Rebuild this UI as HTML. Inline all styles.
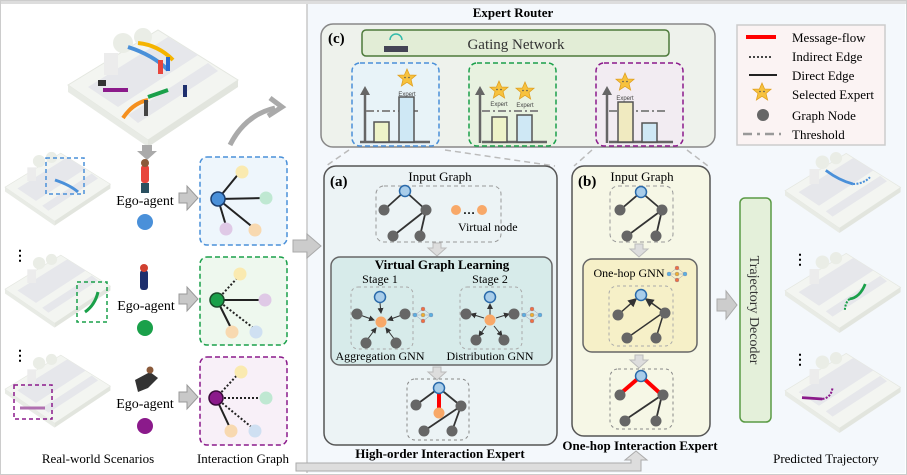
<!DOCTYPE html>
<html><head><meta charset="utf-8"><style>
html,body{margin:0;padding:0;background:#fff}
svg{display:block;font-family:"Liberation Serif",serif}
</style></head><body>
<svg width="907" height="475" viewBox="0 0 907 475" xmlns="http://www.w3.org/2000/svg">
<defs>
<marker id="ah" markerWidth="6" markerHeight="6" refX="5" refY="3" orient="auto"><path d="M0,0 L6,3 L0,6z" fill="#333"/></marker>
<g id="scene">
  <path d="M0,60 L90,5 L170,55 L80,115 Z" fill="#f3f5f1" stroke="#e4e7e0"/>
  <path d="M0,60 L80,115 L80,122 L0,67Z" fill="#e8ebe5"/>
  <path d="M80,115 L170,55 L170,62 L80,122Z" fill="#e2e5de"/>
  <path d="M20,62 L100,12 L130,30 L50,82Z" fill="#e6e7eb"/>
  <path d="M60,90 L140,38 L150,46 L70,98Z" fill="#e6e7eb"/>
  <circle cx="55" cy="18" r="10" fill="#eaede6"/><circle cx="75" cy="12" r="9" fill="#eaede6"/>
  <rect x="36" y="28" width="14" height="22" fill="#ececec"/>
</g>
<g id="star"><path d="M0,-9 L2.6,-3 L9,-2.8 L4,1.5 L5.6,8 L0,4.3 L-5.6,8 L-4,1.5 L-9,-2.8 L-2.6,-3Z" fill="#f7c23e" stroke="#e0a020" stroke-width="0.8"/><circle cx="-2" cy="-0.5" r="0.8" fill="#555"/><circle cx="2" cy="-0.5" r="0.8" fill="#555"/></g>
<g id="nn" stroke="#88a" stroke-width="0.4">
  <line x1="0" y1="0" x2="8" y2="-6"/><line x1="0" y1="0" x2="8" y2="6"/><line x1="0" y1="0" x2="8" y2="0"/><line x1="8" y1="-6" x2="16" y2="0"/><line x1="8" y1="6" x2="16" y2="0"/><line x1="8" y1="0" x2="16" y2="0"/>
  <circle cx="0" cy="0" r="2" fill="#5bb0e0"/><circle cx="8" cy="-6" r="2" fill="#f07040"/><circle cx="8" cy="0" r="2" fill="#f0b030"/><circle cx="8" cy="6" r="2" fill="#f07040"/><circle cx="16" cy="0" r="2" fill="#5bb0e0"/>
</g>
</defs>
<rect x="0.5" y="0.5" width="906" height="474" fill="#fff" stroke="#ccc"/>
<rect x="307" y="2" width="598" height="471" fill="#f4f8fc"/>
<line x1="307" y1="2" x2="307" y2="473" stroke="#c8c8c8" stroke-width="1.5"/>
<rect x="1" y="1" width="905" height="3" fill="#ddd"/>

<g transform="translate(68,25)"><use href="#scene"/>
<path d="M70,18 Q90,20 105,35" stroke="#f5b400" stroke-width="4" fill="none"/>
<path d="M60,22 Q85,30 100,45" stroke="#4a90d9" stroke-width="4" fill="none"/>
<path d="M35,65 L60,65" stroke="#8b1a8b" stroke-width="4"/>
<path d="M100,65 L80,72" stroke="#1aa04a" stroke-width="4"/>
<path d="M55,93 Q65,78 80,75" stroke="#f5901e" stroke-width="4" fill="none"/>
<rect x="90" y="35" width="5" height="14" fill="#e8453c"/><rect x="98" y="32" width="4" height="14" fill="#2a6ad0"/>
<rect x="76" y="75" width="4" height="16" fill="#444"/><rect x="115" y="60" width="4" height="12" fill="#1e2f6e"/>
<rect x="30" y="55" width="8" height="6" fill="#333"/>
</g>
<path d="M230,145 Q245,115 275,108" stroke="#aaa" stroke-width="5" fill="none"/>
<path d="M270,98 L282,107 L268,116" stroke="#aaa" stroke-width="5" fill="none"/>
<path d="M142,145 h10 v6 h5 l-10,9 l-10,-9 h5z" fill="#aaa"/>

<g transform="translate(5,150) scale(0.62)"><use href="#scene"/></g>
<rect x="46" y="158" width="38" height="36" fill="none" stroke="#4a90d9" stroke-dasharray="4,3" stroke-width="1.5"/>
<path d="M55,180 Q70,185 78,192" stroke="#4a90d9" stroke-width="3" fill="none"/>
<g transform="translate(5,252) scale(0.62)"><use href="#scene"/></g>
<rect x="77" y="282" width="30" height="40" fill="none" stroke="#1aa04a" stroke-dasharray="4,3" stroke-width="1.5"/>
<path d="M98,292 Q95,305 85,312" stroke="#1aa04a" stroke-width="3" fill="none"/>
<g transform="translate(5,352) scale(0.62)"><use href="#scene"/></g>
<rect x="14" y="385" width="38" height="34" fill="none" stroke="#8b1a8b" stroke-dasharray="4,3" stroke-width="1.5"/>
<path d="M20,408 L45,408" stroke="#b070b0" stroke-width="3"/>
<text x="13" y="260" font-size="14" font-weight="bold">⋮</text>
<text x="13" y="360" font-size="14" font-weight="bold">⋮</text>

<rect x="141" y="165" width="8" height="18" rx="3" fill="#e8453c"/><circle cx="145" cy="163" r="4" fill="#8a5a3a"/><rect x="141" y="183" width="8" height="10" fill="#2a5060"/>
<text x="145" y="205" font-size="14" text-anchor="middle">Ego-agent</text>
<circle cx="145" cy="222" r="8" fill="#4a90d9"/>
<rect x="140" y="270" width="8" height="20" rx="3" fill="#1e2f6e"/><circle cx="144" cy="268" r="4" fill="#d04030"/>
<text x="146" y="310" font-size="14" text-anchor="middle">Ego-agent</text>
<circle cx="145" cy="328" r="8" fill="#1aa04a"/>
<path d="M135,380 L150,372 L158,378 L148,388 L138,392Z" fill="#333"/><circle cx="150" cy="370" r="3.5" fill="#8a5a3a"/>
<text x="145" y="408" font-size="14" text-anchor="middle">Ego-agent</text>
<circle cx="145" cy="426" r="8" fill="#8b1a8b"/>
<g fill="#c8c8c8" stroke="#999" stroke-width="1">
<path d="M179,193 h8 v-7 l11,12 l-11,12 v-7 h-8z"/>
<path d="M179,294 h8 v-7 l11,12 l-11,12 v-7 h-8z"/>
<path d="M179,392 h8 v-7 l11,12 l-11,12 v-7 h-8z"/>
</g>

<rect x="200" y="157" width="87" height="88" rx="7" fill="#eef6fc" stroke="#4a90d9" stroke-width="1.5" stroke-dasharray="5,3"/>
<g stroke="#222" stroke-width="2"><line x1="218" y1="199" x2="240" y2="172"/><line x1="218" y1="199" x2="265" y2="198"/><line x1="218" y1="199" x2="227" y2="229"/><line x1="218" y1="199" x2="255" y2="229"/></g>
<circle cx="242" cy="172" r="6.5" fill="#faeab0"/><circle cx="266" cy="198" r="6.5" fill="#bfe8d2"/><circle cx="226" cy="229" r="6.5" fill="#dfc9e6"/><circle cx="255" cy="230" r="6.5" fill="#f8d9b0"/>
<circle cx="218" cy="199" r="7" fill="#4a90d9" stroke="#1a3d6e" stroke-width="1.5"/>

<rect x="200" y="257" width="87" height="88" rx="7" fill="#eef8ee" stroke="#1aa04a" stroke-width="1.5" stroke-dasharray="5,3"/>
<g stroke="#222" stroke-width="2"><line x1="217" y1="300" x2="240" y2="275" stroke-dasharray="2,2"/><line x1="217" y1="300" x2="265" y2="300"/><line x1="217" y1="300" x2="232" y2="330"/><line x1="217" y1="300" x2="256" y2="330" stroke-dasharray="2,2"/></g>
<circle cx="240" cy="274" r="6.5" fill="#faeab0"/><circle cx="265" cy="300" r="6.5" fill="#dfc9e6"/><circle cx="232" cy="332" r="6.5" fill="#f8d9b0"/><circle cx="256" cy="332" r="6.5" fill="#cfe0f2"/>
<circle cx="217" cy="300" r="7" fill="#1aa04a" stroke="#1a4a2a" stroke-width="1.5"/>

<rect x="200" y="357" width="87" height="88" rx="7" fill="#f8f0f8" stroke="#8b1a8b" stroke-width="1.5" stroke-dasharray="5,3"/>
<g stroke="#222" stroke-width="2"><line x1="216" y1="398" x2="240" y2="372" stroke-dasharray="2,2"/><line x1="216" y1="398" x2="265" y2="398" stroke-dasharray="2,2"/><line x1="216" y1="398" x2="231" y2="430"/><line x1="216" y1="398" x2="255" y2="430" stroke-dasharray="2,2"/></g>
<circle cx="241" cy="372" r="6.5" fill="#faeab0"/><circle cx="266" cy="398" r="6.5" fill="#bfe8d2"/><circle cx="231" cy="431" r="6.5" fill="#f8d9b0"/><circle cx="255" cy="431" r="6.5" fill="#cfe0f2"/>
<circle cx="216" cy="398" r="7" fill="#8b1a8b" stroke="#3a0a3a" stroke-width="1.5"/>

<text x="98" y="463" font-size="13" text-anchor="middle">Real-world Scenarios</text>
<text x="243" y="463" font-size="13" text-anchor="middle">Interaction Graph</text>

<path d="M293,240 h14 v-6 l14,12 l-14,12 v-6 h-14z" fill="#ccc" stroke="#aaa"/>
<path d="M296,463 h335 v-3 h-6 l11,-9 l11,9 h-6 v11 h-345z" fill="#ddd" stroke="#aaa"/>

<text x="513" y="17" font-size="13" font-weight="bold" text-anchor="middle">Expert Router</text>
<rect x="321" y="24" width="394" height="123" rx="12" fill="#eef2ec" stroke="#888" stroke-width="1.5"/>
<text x="328" y="43" font-size="15" font-weight="bold">(c)</text>
<rect x="362" y="30" width="307" height="26" rx="4" fill="#e2edd6" stroke="#4d7a3a" stroke-width="1.5"/>
<rect x="384" y="46" width="24" height="6" fill="#445"/><path d="M390,40 a6,6 0 0 1 12,0" stroke="#3ba" stroke-width="1.5" fill="none"/>
<text x="516" y="49" font-size="15" fill="#333" text-anchor="middle">Gating Network</text>

<rect x="352" y="63" width="87" height="83" rx="8" fill="#e8f3f8" stroke="#4a90d9" stroke-width="1.5" stroke-dasharray="5,3"/>
<rect x="469" y="63" width="87" height="83" rx="8" fill="#e8f2e0" stroke="#1aa04a" stroke-width="1.5" stroke-dasharray="5,3"/>
<rect x="596" y="63" width="87" height="83" rx="8" fill="#f2ecf2" stroke="#8b1a8b" stroke-width="1.5" stroke-dasharray="5,3"/>
<g stroke="#666" stroke-width="2.5" fill="none">
<path d="M365,143 V92"/><path d="M360,142 H430"/>
<path d="M480,143 V92"/><path d="M482,142 H547"/>
<path d="M607,143 V92"/><path d="M609,142 H673"/>
</g>
<g fill="#666"><path d="M360,95 L365,86 L370,95z"/><path d="M475,95 L480,86 L485,95z"/><path d="M602,95 L607,86 L612,95z"/></g>
<g stroke="#888" stroke-width="2" stroke-dasharray="8,3,2,3"><line x1="366" y1="111" x2="418" y2="111"/><line x1="482" y1="111" x2="540" y2="111"/><line x1="609" y1="111" x2="666" y2="111"/></g>
<g stroke="#555" stroke-width="1.5">
<rect x="374" y="122" width="15" height="20" fill="#eef3c8"/><rect x="399" y="97" width="15" height="45" fill="#cfe8f5"/>
<rect x="492" y="117" width="15" height="25" fill="#eef3c8"/><rect x="517" y="115" width="15" height="27" fill="#cfe8f5"/>
<rect x="618" y="102" width="15" height="40" fill="#f0eac0"/><rect x="642" y="123" width="15" height="19" fill="#cfe8f5"/>
</g>
<use href="#star" x="407" y="78"/><text x="407" y="96" font-size="6" font-family="Liberation Sans" text-anchor="middle" fill="#444">Expert</text>
<use href="#star" x="499" y="90"/><text x="499" y="106" font-size="6" font-family="Liberation Sans" text-anchor="middle" fill="#444">Expert</text>
<use href="#star" x="525" y="91"/><text x="525" y="107" font-size="6" font-family="Liberation Sans" text-anchor="middle" fill="#444">Expert</text>
<use href="#star" x="625" y="82"/><text x="625" y="100" font-size="6" font-family="Liberation Sans" text-anchor="middle" fill="#444">Expert</text>

<g stroke="#bbb" stroke-width="1.5" stroke-dasharray="6,4"><line x1="349" y1="150" x2="326" y2="166"/><line x1="445" y1="150" x2="555" y2="166"/><line x1="592" y1="150" x2="574" y2="166"/><line x1="687" y1="150" x2="708" y2="166"/></g>

<rect x="737" y="25" width="148" height="120" fill="#fbf3f3" stroke="#ccc" stroke-width="1.5"/>
<g font-size="13">
<line x1="746" y1="37" x2="776" y2="37" stroke="#f00" stroke-width="4"/><text x="792" y="42">Message-flow</text>
<line x1="749" y1="57" x2="773" y2="57" stroke="#444" stroke-width="2" stroke-dasharray="2,2"/><text x="792" y="61">Indirect Edge</text>
<line x1="749" y1="75" x2="777" y2="75" stroke="#222" stroke-width="2"/><text x="792" y="80">Direct Edge</text>
<use href="#star" x="762" y="92"/><text x="792" y="99">Selected Expert</text>
<circle cx="763" cy="115" r="6" fill="#666"/><text x="792" y="120">Graph Node</text>
<line x1="743" y1="134" x2="781" y2="134" stroke="#999" stroke-width="2.5" stroke-dasharray="9,5,3,5"/><text x="792" y="139">Threshold</text>
</g>

<rect x="324" y="166" width="233" height="279" rx="12" fill="#ecf3f5" stroke="#555" stroke-width="1.5"/>
<text x="330" y="186" font-size="15" font-weight="bold">(a)</text>
<text x="440" y="181" font-size="13" text-anchor="middle">Input Graph</text>
<rect x="376" y="186" width="125" height="56" rx="8" fill="none" stroke="#999" stroke-dasharray="4,3"/>
<g stroke="#333" stroke-width="1.8"><line x1="405" y1="191" x2="384" y2="210"/><line x1="405" y1="191" x2="426" y2="210"/><line x1="426" y1="210" x2="393" y2="236"/><line x1="426" y1="210" x2="420" y2="236"/></g>
<g fill="#666"><circle cx="384" cy="210" r="5.5"/><circle cx="426" cy="210" r="5.5"/><circle cx="393" cy="236" r="5.5"/><circle cx="420" cy="236" r="5.5"/></g>
<circle cx="405" cy="191" r="5.5" fill="#a8cdea" stroke="#2a6aaa" stroke-width="1.5"/>
<circle cx="456" cy="210" r="5" fill="#f8a868"/><circle cx="482" cy="210" r="5" fill="#f8a868"/><text x="463" y="214" font-size="12" font-weight="bold">…</text>
<text x="458" y="231" font-size="12">Virtual node</text>
<path d="M433,243 h8 v5 h5 l-9,8 l-9,-8 h5z" fill="#ddd" stroke="#bbb"/>
<rect x="331" y="257" width="221" height="108" rx="9" fill="#d7ebea" stroke="#666" stroke-width="1.5"/>
<text x="442" y="269" font-size="13" font-weight="bold" text-anchor="middle">Virtual Graph Learning</text>
<text x="380" y="283" font-size="12" text-anchor="middle">Stage 1</text>
<text x="490" y="283" font-size="12" text-anchor="middle">Stage 2</text>
<rect x="351" y="287" width="62" height="62" rx="7" fill="none" stroke="#aaa" stroke-dasharray="3,3"/>
<rect x="460" y="287" width="62" height="62" rx="7" fill="none" stroke="#aaa" stroke-dasharray="3,3"/>
<g stroke="#333" stroke-width="1" marker-end="url(#ah)">
<line x1="380" y1="303" x2="381" y2="313"/><line x1="360" y1="315" x2="374" y2="320"/><line x1="402" y1="315" x2="388" y2="320"/><line x1="367" y1="340" x2="376" y2="328"/><line x1="395" y1="340" x2="386" y2="328"/>
<line x1="490" y1="315" x2="490" y2="304"/><line x1="484" y1="318" x2="471" y2="314"/><line x1="496" y1="318" x2="509" y2="314"/><line x1="486" y1="326" x2="479" y2="336"/><line x1="494" y1="326" x2="502" y2="336"/>
</g>
<g fill="#666"><circle cx="357" cy="314" r="5.5"/><circle cx="405" cy="314" r="5.5"/><circle cx="366" cy="343" r="5.5"/><circle cx="396" cy="343" r="5.5"/>
<circle cx="466" cy="314" r="5.5"/><circle cx="514" cy="314" r="5.5"/><circle cx="476" cy="340" r="5.5"/><circle cx="504" cy="340" r="5.5"/></g>
<circle cx="381" cy="322" r="5.5" fill="#f8a868"/><circle cx="490" cy="320" r="5.5" fill="#f8a868"/>
<circle cx="380" cy="297" r="5.5" fill="#a8cdea" stroke="#2a6aaa" stroke-width="1.5"/>
<circle cx="490" cy="297" r="5.5" fill="#a8cdea" stroke="#2a6aaa" stroke-width="1.5"/>
<use href="#nn" x="415" y="315"/><use href="#nn" x="524" y="315"/>
<text x="380" y="360" font-size="12" text-anchor="middle">Aggregation GNN</text>
<text x="490" y="360" font-size="12" text-anchor="middle">Distribution GNN</text>
<path d="M433,367 h8 v5 h5 l-9,8 l-9,-8 h5z" fill="#ddd" stroke="#bbb"/>
<rect x="407" y="379" width="62" height="61" rx="8" fill="none" stroke="#888" stroke-dasharray="3,3"/>
<g stroke="#333" stroke-width="1.8"><line x1="439" y1="388" x2="416" y2="405"/><line x1="439" y1="388" x2="461" y2="406"/><line x1="461" y1="406" x2="424" y2="431"/><line x1="461" y1="406" x2="452" y2="431"/></g>
<line x1="439" y1="388" x2="439" y2="412" stroke="#f00" stroke-width="4"/>
<g fill="#666"><circle cx="416" cy="405" r="5.5"/><circle cx="461" cy="406" r="5.5"/><circle cx="424" cy="431" r="5.5"/><circle cx="452" cy="431" r="5.5"/></g>
<circle cx="439" cy="413" r="5.5" fill="#f8a868"/>
<circle cx="439" cy="388" r="5.5" fill="#a8cdea" stroke="#2a6aaa" stroke-width="1.5"/>
<text x="440" y="458" font-size="13" font-weight="bold" text-anchor="middle">High-order Interaction Expert</text>

<rect x="572" y="166" width="138" height="270" rx="12" fill="#f6f7e6" stroke="#555" stroke-width="1.5"/>
<text x="578" y="186" font-size="15" font-weight="bold">(b)</text>
<text x="642" y="181" font-size="13" text-anchor="middle">Input Graph</text>
<rect x="610" y="186" width="63" height="56" rx="8" fill="none" stroke="#999" stroke-dasharray="4,3"/>
<g stroke="#333" stroke-width="1.8"><line x1="641" y1="192" x2="620" y2="210"/><line x1="641" y1="192" x2="662" y2="210"/><line x1="662" y1="210" x2="627" y2="236"/><line x1="662" y1="210" x2="656" y2="236"/></g>
<g fill="#666"><circle cx="620" cy="210" r="5.5"/><circle cx="662" cy="210" r="5.5"/><circle cx="627" cy="236" r="5.5"/><circle cx="656" cy="236" r="5.5"/></g>
<circle cx="641" cy="192" r="5.5" fill="#a8cdea" stroke="#2a6aaa" stroke-width="1.5"/>
<path d="M635,244 h8 v5 h5 l-9,8 l-9,-8 h5z" fill="#ddd" stroke="#bbb"/>
<rect x="583" y="259" width="114" height="93" rx="9" fill="#f6f0c8" stroke="#666" stroke-width="1.5"/>
<text x="629" y="277" font-size="12" text-anchor="middle">One-hop GNN</text>
<use href="#nn" x="669" y="274"/>
<rect x="609" y="286" width="64" height="60" rx="8" fill="none" stroke="#aaa" stroke-dasharray="3,3"/>
<g stroke="#333" stroke-width="1.5"><line x1="619" y1="314" x2="636" y2="299" marker-end="url(#ah)"/><line x1="664" y1="312" x2="646" y2="299" marker-end="url(#ah)"/><line x1="664" y1="312" x2="627" y2="338"/><line x1="664" y1="312" x2="656" y2="338"/></g>
<g fill="#666"><circle cx="618" cy="315" r="5.5"/><circle cx="665" cy="313" r="5.5"/><circle cx="627" cy="338" r="5.5"/><circle cx="656" cy="338" r="5.5"/></g>
<circle cx="641" cy="295" r="5.5" fill="#a8cdea" stroke="#2a6aaa" stroke-width="1.5"/>
<path d="M635,355 h8 v5 h5 l-9,8 l-9,-8 h5z" fill="#ddd" stroke="#bbb"/>
<rect x="610" y="369" width="63" height="60" rx="8" fill="none" stroke="#888" stroke-dasharray="3,3"/>
<g stroke="#333" stroke-width="1.8"><line x1="662" y1="395" x2="625" y2="420"/><line x1="662" y1="395" x2="656" y2="420"/></g>
<g stroke="#f00" stroke-width="4"><line x1="641" y1="376" x2="620" y2="394"/><line x1="641" y1="376" x2="662" y2="395"/></g>
<g fill="#666"><circle cx="620" cy="395" r="5.5"/><circle cx="663" cy="395" r="5.5"/><circle cx="625" cy="421" r="5.5"/><circle cx="656" cy="421" r="5.5"/></g>
<circle cx="641" cy="376" r="5.5" fill="#a8cdea" stroke="#2a6aaa" stroke-width="1.5"/>
<text x="640" y="450" font-size="13" font-weight="bold" text-anchor="middle">One-hop Interaction Expert</text>

<path d="M717,299 h9 v-8 l11,14 l-11,14 v-8 h-9z" fill="#ccc" stroke="#aaa"/>
<rect x="740" y="198" width="31" height="224" rx="5" fill="#e4f0da" stroke="#5a9a44" stroke-width="1.5"/>
<text transform="translate(750,310) rotate(90)" font-size="14" text-anchor="middle" fill="#333">Trajectory Decoder</text>

<g transform="translate(785,150) scale(0.68)"><use href="#scene"/>
<path d="M60,30 Q80,45 100,50" stroke="#4a90d9" stroke-width="4" fill="none"/><path d="M100,50 Q115,50 125,40" stroke="#4a90d9" stroke-width="3" stroke-dasharray="3,2" fill="none"/></g>
<g transform="translate(785,250) scale(0.68)"><use href="#scene"/>
<path d="M118,50 Q110,70 95,72" stroke="#1aa04a" stroke-width="4" fill="none"/><path d="M95,72 Q88,78 88,90" stroke="#1aa04a" stroke-width="3" stroke-dasharray="3,2" fill="none"/></g>
<g transform="translate(785,350) scale(0.68)"><use href="#scene"/>
<path d="M25,70 L55,72" stroke="#8b1a8b" stroke-width="4"/><path d="M55,72 Q68,70 70,55" stroke="#8b1a8b" stroke-width="3" stroke-dasharray="3,2" fill="none"/></g>
<text x="793" y="264" font-size="14" font-weight="bold">⋮</text>
<text x="793" y="364" font-size="14" font-weight="bold">⋮</text>
<text x="826" y="463" font-size="13" text-anchor="middle">Predicted Trajectory</text>
</svg>
</body></html>
